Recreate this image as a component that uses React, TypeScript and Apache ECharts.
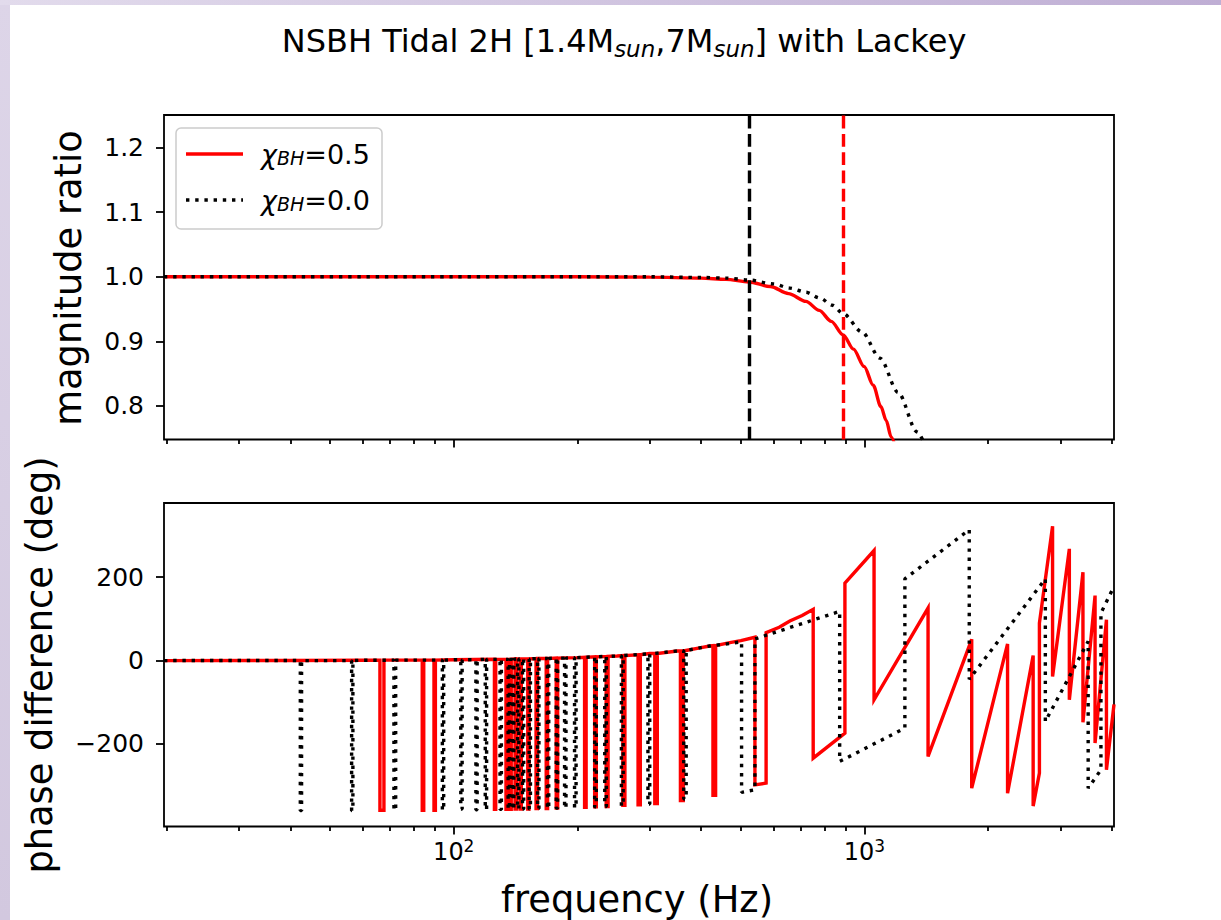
import React, { useEffect, useRef } from 'react';
import * as echarts from 'echarts';

const FONT = 'DejaVu Sans';

// x axis (frequency, Hz, log scale)
const X_MIN = 19.7;
const X_MAX = 4050;
const majorTicks = [100, 1000];
const minorTicks = [20, 30, 40, 50, 60, 70, 80, 90, 200, 300, 400, 500, 600, 700, 800, 900, 2000, 3000, 4000];

// y axes
const magTicks = [0.8, 0.9, 1.0, 1.1, 1.2];
const phaseTicks = [-200, 0, 200];
const MAG_MIN = 0.748;
const MAG_MAX = 1.2506;
const PH_MIN = -398;
const PH_MAX = 378;

// contact frequencies (vertical dashed lines)
const contactBlack = 523;
const contactRed = 887;

// magnitude ratio  [freq, ratio]
const magRed = [
  [19.7, 1.0], [100, 1.0], [200, 1.0], [300, 0.9995], [400, 0.998], [460, 0.996], [523, 0.992],
  [590, 0.985], [653, 0.974], [720, 0.962], [776, 0.948], [830, 0.931], [887, 0.91], [940, 0.888],
  [998, 0.861], [1050, 0.832], [1096, 0.799], [1130, 0.777], [1161, 0.752], [1221, 0.707],
];
const magBlack = [
  [19.7, 1.0], [100, 1.0], [200, 1.0], [300, 1.0], [400, 0.999], [460, 0.998], [523, 0.995],
  [600, 0.989], [658, 0.9825], [720, 0.976], [779, 0.967], [835, 0.956], [887, 0.943], [986, 0.9146],
  [1091, 0.874], [1207, 0.821], [1343, 0.7596], [1485, 0.69],
];

// phase difference: smooth part  [freq, deg]
const phaseBaseRed = [
  [19.7, 0], [40, 0.3], [60, 0.8], [80, 1.2], [100, 2], [150, 4], [200, 7], [250, 11],
  [300, 17], [350, 23], [400, 31], [420, 35], [470, 43], [500, 48], [541, 56],
];
const phaseBaseBlack = [
  [19.7, 0], [40, 0.3], [60, 0.8], [80, 1.2], [100, 2], [150, 4], [200, 7], [250, 11],
  [300, 17], [350, 23], [400, 31], [420, 35], [470, 41], [502, 45],
];
// wrap spikes  [freq down, freq up, top deg, bottom deg]
const spikesRed = [
  [66.1, 67.6, 1, -359], [83.8, 84.5, 1, -359], [89.5, 90.2, 1, -359], [125.6, 126.5, 3, -357],
  [134, 135, 3, -357], [137, 138, 3, -357], [141, 142, 4, -356], [145, 146, 4, -356],
  [151.4, 152.5, 4, -356], [158.6, 159.8, 5, -355], [167.9, 169.2, 5, -355], [177.6, 179, 6, -354],
  [208.2, 210, 8, -352], [220.3, 222.3, 9, -351], [235, 237.5, 10, -350], [258, 261, 12, -347],
  [281, 284.5, 14, -346], [308.6, 313, 17, -343], [356.3, 362, 23, -336], [427.6, 434, 36, -323],
];
const spikesBlack = [
  [42.3, 42.6, 0, -360], [56.4, 56.8, 0, -360], [71.5, 72.2, 1, -359], [93.8, 94.5, 1, -359],
  [104, 104.8, 2, -356], [113.2, 114, 2, -358], [119.3, 120.2, 3, -357], [129.6, 130.6, 3, -357],
  [135.6, 136.6, 3, -357], [139, 140, 3, -357], [143, 144, 4, -356], [147, 148, 4, -356],
  [152.6, 153.7, 4, -356], [160, 161.2, 5, -355], [169, 170.3, 5, -355], [177.6, 179, 6, -354],
  [186.1, 187.6, 6, -354], [196.8, 198.5, 7, -353], [220.3, 222.3, 9, -351], [233.1, 235.2, 10, -350],
  [255.9, 258.5, 12, -348], [297, 300, 16, -344], [363, 368, 24, -332],
];
// high-frequency sawtooth part
const phaseTailRed = [
  [541, -298], [576, -294], [576, 67], [620, 80], [658, 95], [705, 108], [750, 123], [750, -234],
  [896, -174], [896, 186], [1055, 264], [1055, -94], [1428, 126], [1428, -230], [1824, 51],
  [1824, -306], [2230, 40], [2230, -318], [2574, 12], [2574, -349], [2666, -270], [2666, 90],
  [2870, 322], [2870, -38], [3153, 268], [3153, -94], [3403, 212], [3403, -148], [3642, 156],
  [3642, -198], [3882, 98], [3882, -262], [4050, -105],
];
const phaseTailBlack = [
  [502, -316], [541, -310], [541, 52], [870, 118], [870, -242], [1254, -162], [1254, 196],
  [1799, 314], [1799, -45], [2756, 196], [2756, -146], [3504, 46], [3504, -306], [3764, -262],
  [3764, 114], [4050, 178],
];

function buildPhase(base: number[][], spikes: number[][], tail: number[][]) {
  const groups: { f: number; pts: number[][] }[] = base.map((p) => ({ f: p[0], pts: [p] }));
  spikes.forEach((s) =>
    groups.push({ f: s[0], pts: [[s[0], s[2]], [s[0], s[3]], [s[1], s[3]], [s[1], s[2]]] })
  );
  groups.sort((a, b) => a.f - b.f);
  return groups.flatMap((g) => g.pts).concat(tail);
}

const phaseRed = buildPhase(phaseBaseRed, spikesRed, phaseTailRed);
const phaseBlack = buildPhase(phaseBaseBlack, spikesBlack, phaseTailBlack);

const LW = 3.4;
const DOT = [3.4, 5.8];
const DASH = [12.8, 5.5];
const SPINE = 1.8;

export default function App() {
  const ref = useRef<HTMLDivElement>(null);
  useEffect(() => {
    if (!ref.current) return;
    const chart = echarts.init(ref.current, undefined, { renderer: 'svg' });
    const grids = [
      { left: 164, top: 115, width: 950, height: 324.5 },
      { left: 164, top: 503, width: 950, height: 323.5 },
    ].map((g) => ({ ...g, show: true, borderColor: '#000', borderWidth: SPINE, backgroundColor: '#fff', z: 0 }));

    const tickStyle = { color: '#000', width: SPINE };
    const xAxes: any[] = [];
    [0, 1].forEach((i) => {
      xAxes.push({
        type: 'log', logBase: 10, gridIndex: i, min: X_MIN, max: X_MAX, position: 'bottom',
        axisLine: { show: false, onZero: false }, splitLine: { show: false }, minorTick: { show: false },
        axisTick: { show: true, customValues: majorTicks, length: 8, lineStyle: tickStyle },
        axisLabel: i === 1
          ? {
              show: true, customValues: majorTicks, margin: 11,
              formatter: (v: number) => `{b|10}{s|${Math.round(Math.log10(v))}}`,
              rich: {
                b: { fontSize: 24, fontFamily: FONT, color: '#000' },
                s: { fontSize: 17, fontFamily: FONT, color: '#000', verticalAlign: 'top', padding: [0, 0, 11, 0] },
              },
            }
          : { show: false },
      });
      xAxes.push({
        type: 'log', logBase: 10, gridIndex: i, min: X_MIN, max: X_MAX, position: 'bottom',
        axisLine: { show: false, onZero: false }, splitLine: { show: false },
        axisTick: { show: true, customValues: minorTicks, length: 4.6, lineStyle: tickStyle },
        axisLabel: { show: false },
      });
    });

    const labelStyle = { fontSize: 25, fontFamily: FONT, color: '#000', margin: 20 };
    const yAxes = [
      {
        type: 'value', gridIndex: 0, min: MAG_MIN, max: MAG_MAX,
        axisLine: { show: false, onZero: false }, splitLine: { show: false },
        axisTick: { show: true, customValues: magTicks, length: 8, lineStyle: tickStyle },
        axisLabel: { ...labelStyle, customValues: magTicks, formatter: (v: number) => v.toFixed(1) },
      },
      {
        type: 'value', gridIndex: 1, min: PH_MIN, max: PH_MAX,
        axisLine: { show: false, onZero: false }, splitLine: { show: false },
        axisTick: { show: true, customValues: phaseTicks, length: 8, lineStyle: tickStyle },
        axisLabel: {
          ...labelStyle, customValues: phaseTicks,
          formatter: (v: number) => (v < 0 ? '\u2212' + Math.abs(v) : String(v)),
        },
      },
    ];

    const lineBase = { type: 'line', symbol: 'none', showSymbol: false, clip: true, silent: true };
    const series: any[] = [
      {
        ...lineBase, name: 'red mag', xAxisIndex: 0, yAxisIndex: 0, data: magRed, z: 3,
        smooth: 0.3, smoothMonotone: 'x',
        lineStyle: { color: '#ff0000', width: LW },
      },
      {
        ...lineBase, name: 'black mag', xAxisIndex: 0, yAxisIndex: 0, data: magBlack, z: 4,
        smooth: 0.3, smoothMonotone: 'x',
        lineStyle: { color: '#000', width: LW, type: DOT },
        markLine: {
          silent: true, symbol: ['none', 'none'], label: { show: false },
          lineStyle: { color: '#000', width: LW, type: DASH },
          data: [{ xAxis: contactBlack }],
        },
      },
      {
        ...lineBase, name: 'red contact', xAxisIndex: 0, yAxisIndex: 0, data: [], z: 5,
        lineStyle: { color: '#ff0000', width: LW },
        markLine: {
          silent: true, symbol: ['none', 'none'], label: { show: false },
          lineStyle: { color: '#ff0000', width: LW, type: DASH },
          data: [{ xAxis: contactRed }],
        },
      },
      {
        ...lineBase, name: 'red phase', xAxisIndex: 2, yAxisIndex: 1, data: phaseRed, z: 3,
        lineStyle: { color: '#ff0000', width: LW, join: 'miter' },
      },
      {
        ...lineBase, name: 'black phase', xAxisIndex: 2, yAxisIndex: 1, data: phaseBlack, z: 4,
        lineStyle: { color: '#000', width: LW, type: DOT },
      },
    ];

    const legendText = (val: string) => ({
      text: `{c|χ}{sub|BH}{e|=${val}}`, verticalAlign: 'middle',
      rich: {
        c: { fontSize: 27, fontFamily: FONT, fontStyle: 'italic', fill: '#000' },
        sub: { fontSize: 19, fontFamily: FONT, fontStyle: 'italic', fill: '#000', verticalAlign: 'bottom' },
        e: { fontSize: 27, fontFamily: FONT, fill: '#000' },
      },
    });

    const graphic: any[] = [
      {
        type: 'rect', left: 0, top: 0, z: -10, silent: true,
        shape: { width: 10, height: 920 },
        style: { fill: new echarts.graphic.LinearGradient(0, 0, 0, 1, [
          { offset: 0, color: '#ddd5e8' }, { offset: 1, color: '#d2c8df' }]) },
      },
      {
        type: 'rect', left: 0, top: 0, z: -10, silent: true,
        shape: { width: 1221, height: 5 },
        style: { fill: new echarts.graphic.LinearGradient(0, 0, 1, 0, [
          { offset: 0, color: '#e2dbec' }, { offset: 1, color: '#bfaed4' }]) },
      },
      {
        type: 'text', x: 624, y: 41, silent: true,
        style: {
          text: '{a|NSBH Tidal 2H [1.4M}{s|sun}{a|,7M}{s|sun}{a|] with Lackey}',
          align: 'center', verticalAlign: 'middle',
          rich: {
            a: { fontSize: 32, fontFamily: FONT, fill: '#000', lineHeight: 38 },
            s: { fontSize: 23, fontFamily: FONT, fontStyle: 'italic', fill: '#000', verticalAlign: 'bottom', lineHeight: 23 },
          },
        },
      },
      {
        type: 'text', x: 68, y: 278, rotation: Math.PI / 2, silent: true,
        style: { text: 'magnitude ratio', fontSize: 36.8, fontFamily: FONT, fill: '#000', align: 'center', verticalAlign: 'middle' },
      },
      {
        type: 'text', x: 39, y: 665, rotation: Math.PI / 2, silent: true,
        style: { text: 'phase difference (deg)', fontSize: 36.8, fontFamily: FONT, fill: '#000', align: 'center', verticalAlign: 'middle' },
      },
      {
        type: 'text', x: 637, y: 899, silent: true,
        style: { text: 'frequency (Hz)', fontSize: 36.8, fontFamily: FONT, fill: '#000', align: 'center', verticalAlign: 'middle' },
      },
      // legend
      {
        type: 'rect', z: 20, silent: true,
        shape: { x: 176, y: 128, width: 206, height: 101, r: 5 },
        style: { fill: 'rgba(255,255,255,0.8)', stroke: '#cccccc', lineWidth: 1.5 },
      },
      {
        type: 'line', z: 21, silent: true,
        shape: { x1: 186, y1: 154, x2: 243, y2: 154 },
        style: { stroke: '#ff0000', lineWidth: LW },
      },
      {
        type: 'line', z: 21, silent: true,
        shape: { x1: 186, y1: 200, x2: 243, y2: 200 },
        style: { stroke: '#000', lineWidth: LW, lineDash: DOT },
      },
      { type: 'text', z: 21, x: 261, y: 154, silent: true, style: legendText('0.5') },
      { type: 'text', z: 21, x: 261, y: 200, silent: true, style: legendText('0.0') },
    ];

    chart.setOption({
      animation: false,
      backgroundColor: '#ffffff',
      textStyle: { fontFamily: FONT },
      grid: grids,
      xAxis: xAxes,
      yAxis: yAxes,
      series,
      graphic,
    });
    return () => chart.dispose();
  }, []);

  return (
    <div
      ref={ref}
      style={{ position: 'fixed', left: 0, top: 0, width: 1221, height: 920, background: '#fff' }}
    />
  );
}
